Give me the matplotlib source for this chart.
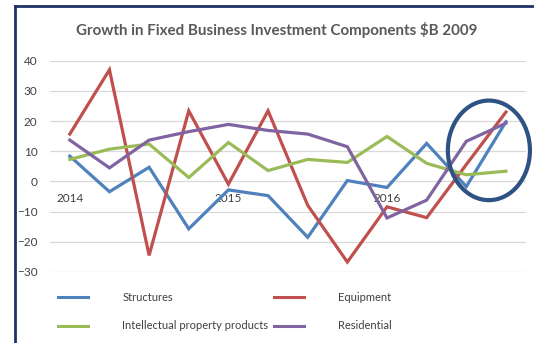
import matplotlib.pyplot as plt
from matplotlib.lines import Line2D
from matplotlib.patches import Ellipse

# quarterly growth, 2014Q1 .. 2016Q4
quarters = ["2014Q1", "2014Q2", "2014Q3", "2014Q4",
            "2015Q1", "2015Q2", "2015Q3", "2015Q4",
            "2016Q1", "2016Q2", "2016Q3", "2016Q4"]
structures = [8.4, -3.4, 4.7, -15.7, -2.8, -4.7, -18.5, 0.3, -2.0, 12.6, -1.7, 19.8]
equipment = [15.7, 37.0, -24.5, 23.4, -0.9, 23.4, -7.9, -26.7, -8.4, -12.0, 5.6, 23.0]
intellectual = [7.3, 10.7, 12.4, 1.3, 12.9, 3.6, 7.3, 6.3, 14.9, 6.0, 2.2, 3.4]
residential = [13.7, 4.5, 13.7, 16.5, 18.9, 16.9, 15.7, 11.5, -12.1, -6.2, 13.3, 19.3]

year_ticks = [0, 4, 8]
year_labels = ["2014", "2015", "2016"]
y_ticks = [-30, -20, -10, 0, 10, 20, 30, 40]

plt.rcParams["font.family"] = ["Lato", "DejaVu Sans"]

fig = plt.figure(figsize=(5.34, 3.43), dpi=100)
ax = fig.add_axes([0.0936, 0.207, 0.891, 0.616])

x = range(len(quarters))
series = [
    ("Structures", structures, "#4F81BD"),
    ("Intellectual property products", intellectual, "#9BBB59"),
    ("Equipment", equipment, "#C0504D"),
    ("Residential", residential, "#8064A2"),
]
# draw order: structures, equipment, IPP, residential
for name in ["Structures", "Equipment", "Intellectual property products", "Residential"]:
    label, vals, col = next(s for s in series if s[0] == name)
    ax.plot(x, vals, color=col, lw=2.3, label=label, solid_joinstyle="miter")

ax.set_xlim(-0.5, len(quarters) - 0.5)
ax.set_ylim(-30, 40)
ax.set_yticks(y_ticks)
ax.set_xticks(year_ticks)
ax.set_xticklabels(year_labels)
ax.grid(axis="y", color="#D9D9D9", lw=0.9)
ax.set_axisbelow(True)
for s in ax.spines.values():
    s.set_visible(False)
ax.spines["bottom"].set_position(("data", 0))
ax.tick_params(axis="both", length=0, labelsize=8.5, colors="#404040")
ax.tick_params(axis="y", pad=9)
ax.tick_params(axis="x", pad=8.5)

# highlight the latest quarters
ax.add_patch(Ellipse((10.57, 10.3), 2.07, 33, fill=False, ec="#2E5283",
                     lw=3.0, clip_on=False, zorder=5))

fig.text(0.519, 0.912, "Growth in Fixed Business Investment Components $B 2009",
         ha="center", va="center", fontsize=10.9, fontweight="bold", color="#595959")

handles = [Line2D([], [], color=c, lw=2.2) for _, _, c in series]
labels = [n for n, _, _ in series]
fig.legend(handles, labels, ncol=2, loc="upper left", bbox_to_anchor=(0.108, 0.148),
           frameon=False, fontsize=8, handlelength=2.7, handletextpad=3.1,
           columnspacing=0.5, labelspacing=1.55, borderpad=0, borderaxespad=0,
           labelcolor="#404040")

# frame edges on the left and top
fig.add_artist(Line2D([0.028, 0.028], [0.0, 0.982], color="#1F3466", lw=2.0))
fig.add_artist(Line2D([0.028, 1.0], [0.982, 0.982], color="#1F3466", lw=2.0))

fig.savefig("out.png", dpi=100)
